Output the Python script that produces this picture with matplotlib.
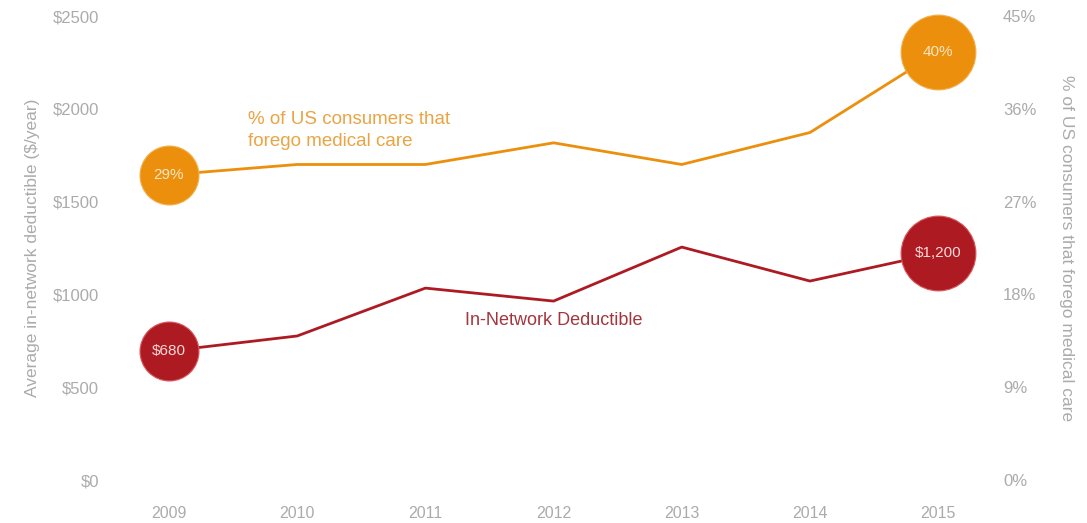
import matplotlib
matplotlib.use("Agg")
import matplotlib.pyplot as plt

plt.rcParams['font.family'] = ['Liberation Sans', 'DejaVu Sans']

years = [2009, 2010, 2011, 2012, 2013, 2014, 2015]
deductible = [695, 776, 1034, 964, 1255, 1072, 1223]
forego_pct = [29.6, 30.6, 30.6, 32.7, 30.6, 33.7, 41.5]

left_ticks = [0, 500, 1000, 1500, 2000, 2500]
left_labels = ['$0', '$500', '$1000', '$1500', '$2000', '$2500']
right_ticks = [0, 9, 18, 27, 36, 45]
right_labels = ['0%', '9%', '18%', '27%', '36%', '45%']

deductible_end_labels = ['$680', '$1,200']
forego_end_labels = ['29%', '40%']

RED = '#AE1A21'
ORANGE = '#EB8F0C'
GREY = '#ABABAB'

fig = plt.figure(figsize=(10.87, 5.23), dpi=100)
ax = fig.add_axes([0.1012, 0.0822, 0.8114, 0.8872])
ax2 = ax.twinx()

ax.set_xlim(2008.54, 2015.42)
ax.set_ylim(0, 2500)
ax2.set_ylim(0, 45)

# lines
ax.plot(years, deductible, color=RED, lw=2.0, zorder=2)
ax2.plot(years, forego_pct, color=ORANGE, lw=2.0, zorder=2)

# end bubbles
ends = [0, -1]
sizes = [1800, 2900]
for i, s, lab in zip(ends, sizes, deductible_end_labels):
    ax.scatter(years[i], deductible[i], s=s, color=RED, zorder=3,
               edgecolors='#D9575B', linewidths=0.8, clip_on=False)
    ax.text(years[i], deductible[i], lab, color='#F6DADA', fontsize=11,
            ha='center', va='center', zorder=4)
for i, s, lab in zip(ends, sizes, forego_end_labels):
    ax2.scatter(years[i], forego_pct[i], s=s, color=ORANGE, zorder=3,
                edgecolors='#F2B04A', linewidths=0.8, clip_on=False)
    ax2.text(years[i], forego_pct[i], lab, color='#FBE6C4', fontsize=11,
             ha='center', va='center', zorder=4)

# series labels
ax.text(2009.62, 1780, '% of US consumers that\nforego medical care',
        color='#EAA443', fontsize=13.5, ha='left', va='bottom',
        linespacing=1.35)
ax.text(2012.0, 860, 'In-Network Deductible', color='#A5353D',
        fontsize=13, ha='center', va='center')

# axes styling
for a in (ax, ax2):
    for sp in a.spines.values():
        sp.set_visible(False)
    a.tick_params(length=0, colors=GREY, labelsize=12)

ax.set_xticks(years)
ax.set_xticklabels([str(y) for y in years])
ax.tick_params(axis='x', pad=19, labelsize=11.5)
ax.set_yticks(left_ticks)
ax.set_yticklabels(left_labels)
ax.tick_params(axis='y', pad=8)
ax2.set_yticks(right_ticks)
ax2.set_yticklabels(right_labels)
ax2.tick_params(axis='y', pad=8)

ax.set_ylabel('Average in-network deductible ($/year)', color=GREY,
              fontsize=12.5, labelpad=9)
ax2.set_ylabel('% of US consumers that forego medical care', color=GREY,
               fontsize=12.5, rotation=270, labelpad=27)

fig.savefig('out.png', dpi=100)
